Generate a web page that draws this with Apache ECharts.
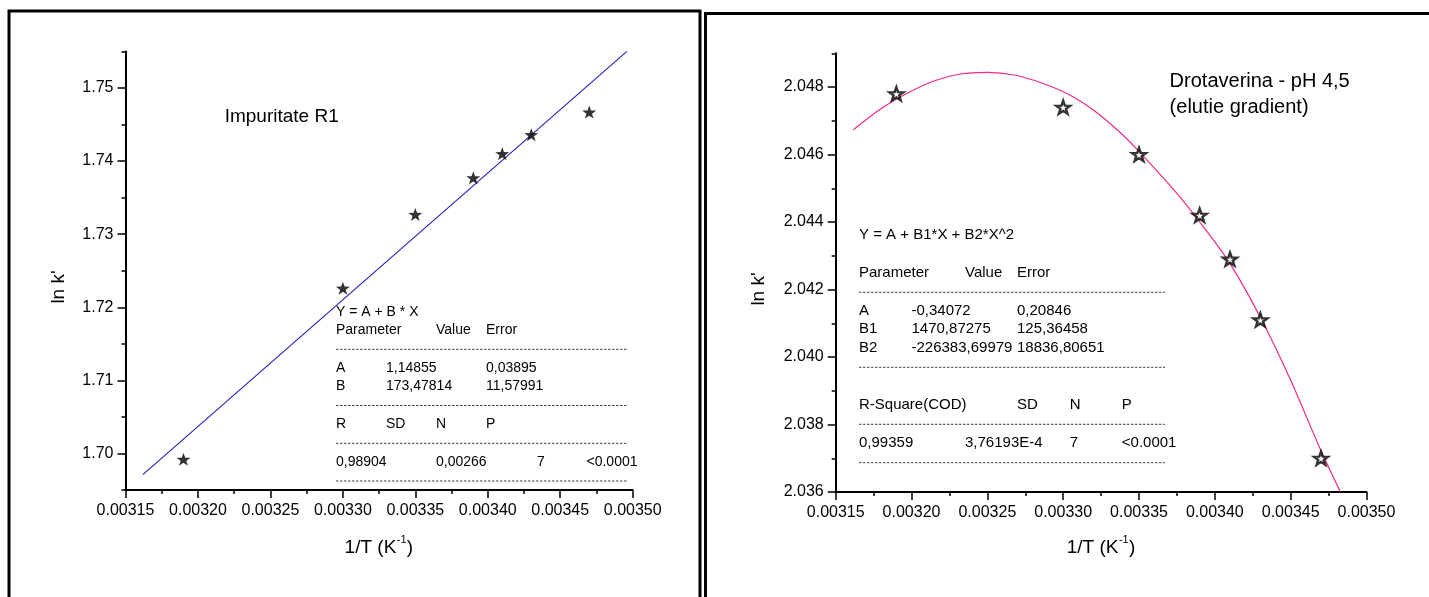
<!DOCTYPE html>
<html><head><meta charset="utf-8">
<script src="https://cdn.jsdelivr.net/npm/echarts@6/dist/echarts.min.js"></script>
<style>html,body{margin:0;padding:0;background:#fff}#c{width:1429px;height:597px}</style>
</head><body><div id="c"></div>
<script>
// ---- data ----
const leftX = [0.00319, 0.00330, 0.00335, 0.00339, 0.00341, 0.00343, 0.00347];
const leftY = [1.6992, 1.7226, 1.7327, 1.7377, 1.7410, 1.7436, 1.7467];
const leftFitX = [0.003162, 0.003496];
const leftFitY = [1.6971, 1.7550];

const rightX = [0.00319, 0.00330, 0.00335, 0.00339, 0.00341, 0.00343, 0.00347];
const rightY = [2.0478, 2.0474, 2.0460, 2.0442, 2.0429, 2.0411, 2.0370];
const rightCurveX = [0.0031616, 0.0031798, 0.0031987, 0.0032152, 0.0032323, 0.0032500, 0.0032677, 0.0032859, 0.0033040, 0.0033212, 0.0033376, 0.0033490, 0.0033730, 0.0033907, 0.0034096, 0.0034298, 0.0034500, 0.0034689, 0.0034828];
const rightCurveY = [2.046734, 2.047357, 2.047852, 2.048188, 2.048386, 2.048435, 2.048356, 2.048119, 2.047772, 2.047278, 2.046655, 2.046140, 2.044953, 2.043964, 2.042796, 2.041194, 2.039314, 2.037335, 2.036000];

// ---- tick labels ----
const xTickLabels = [0.00315, 0.00320, 0.00325, 0.00330, 0.00335, 0.00340, 0.00345, 0.00350];
const xMinorTicks = [0.003175, 0.003225, 0.003275, 0.003325, 0.003375, 0.003425, 0.003475];
const leftYLabels = [1.70, 1.71, 1.72, 1.73, 1.74, 1.75];
const leftYMinor = [1.695, 1.705, 1.715, 1.725, 1.735, 1.745, 1.755];
const rightYLabels = [2.036, 2.038, 2.040, 2.042, 2.044, 2.046, 2.048];
const rightYMinor = [2.037, 2.039, 2.041, 2.043, 2.045, 2.047, 2.049];

// ---- texts ----
const leftTitle = 'Impuritate R1';
const rightTitle1 = 'Drotaverina - pH 4,5';
const rightTitle2 = '(elutie gradient)';
const yName = "ln k'";
const xNameMain = '1/T (K';
const xNameSup = '-1';
const xNameEnd = ')';

const FONT = '"Liberation Sans", Arial, sans-serif';
const zip = (a, b) => a.map((v, i) => [v, b[i]]);
const STAR = 'path://M0,-10 L2.35,-3.24 L9.51,-3.09 L3.8,1.24 L5.88,8.09 L0,4 L-5.88,8.09 L-3.8,1.24 L-9.51,-3.09 L-2.35,-3.24 Z';

function mainX(grid, min, max, labels, dec) {
  return {
    type: 'value', gridIndex: grid, position: 'bottom', min: min, max: max,
    axisLine: {show: true, onZero: false, lineStyle: {color: '#000', width: 2}},
    axisTick: {show: true, inside: false, length: 8, lineStyle: {color: '#000', width: 1.5}, customValues: labels},
    axisLabel: {show: true, color: '#000', fontSize: 16, fontFamily: FONT, margin: 13, customValues: labels,
      formatter: v => v.toFixed(dec)},
    splitLine: {show: false}
  };
}
function minorX(grid, min, max, vals) {
  return {
    type: 'value', gridIndex: grid, position: 'bottom', min: min, max: max,
    axisLine: {show: false, onZero: false},
    axisTick: {show: true, inside: false, length: 4, lineStyle: {color: '#000', width: 1.5}, customValues: vals},
    axisLabel: {show: false},
    splitLine: {show: false}
  };
}
function mainY(grid, min, max, labels, dec) {
  return {
    type: 'value', gridIndex: grid, position: 'left', min: min, max: max,
    axisLine: {show: true, onZero: false, lineStyle: {color: '#000', width: 2}},
    axisTick: {show: true, inside: false, length: 8, lineStyle: {color: '#000', width: 1.5}, customValues: labels},
    axisLabel: {show: true, color: '#000', fontSize: 16, fontFamily: FONT, margin: 12, customValues: labels,
      formatter: v => v.toFixed(dec)},
    splitLine: {show: false}
  };
}
function minorY(grid, min, max, vals) {
  return {
    type: 'value', gridIndex: grid, position: 'left', min: min, max: max,
    axisLine: {show: false, onZero: false},
    axisTick: {show: true, inside: false, length: 4, lineStyle: {color: '#000', width: 1.5}, customValues: vals},
    axisLabel: {show: false},
    splitLine: {show: false}
  };
}

function txt(x, y, text, size, align) {
  return {type: 'text', x: x, y: y, silent: true,
    style: {text: text, fontSize: size || 14, fontFamily: FONT, fill: '#000',
      textAlign: align || 'left', textVerticalAlign: 'middle'}};
}
function dash(x1, x2, y) {
  return {type: 'line', silent: true, shape: {x1: x1, y1: y, x2: x2, y2: y},
    style: {stroke: '#444', lineWidth: 1, lineDash: [2.5, 1.5]}};
}
function xTitle(cx, y) {
  const main = 19, sup = 11;
  const w1 = 51.7, w2 = 10, w3 = 6.3;
  const x0 = cx - (w1 + w2 + w3) / 2;
  return [
    txt(x0, y, xNameMain, main),
    txt(x0 + w1 + 0.5, y - 8, xNameSup, sup),
    txt(x0 + w1 + w2 + 0.5, y, xNameEnd, main)
  ];
}
function yTitle(cx, cy) {
  return {type: 'text', x: cx, y: cy, rotation: Math.PI / 2, silent: true,
    style: {text: yName, fontSize: 19, fontFamily: FONT, fill: '#000', textAlign: 'center', textVerticalAlign: 'middle'}};
}

// left stats box
const L0 = 336, L1 = 386, L2 = 436, L3 = 486, L4 = 537, L5 = 586.5, LE = 627;
const leftStats = [
  txt(L0, 312, 'Y = A + B * X'),
  txt(L0, 330, 'Parameter'), txt(L2, 330, 'Value'), txt(L3, 330, 'Error'),
  dash(L0, LE, 349.3),
  txt(L0, 368, 'A'), txt(L1, 368, '1,14855'), txt(L3, 368, '0,03895'),
  txt(L0, 386.5, 'B'), txt(L1, 386.5, '173,47814'), txt(L3, 386.5, '11,57991'),
  dash(L0, LE, 405.5),
  txt(L0, 424, 'R'), txt(L1, 424, 'SD'), txt(L2, 424, 'N'), txt(L3, 424, 'P'),
  dash(L0, LE, 443.3),
  txt(L0, 461.7, '0,98904'), txt(L2, 461.7, '0,00266'), txt(L4, 461.7, '7'), txt(L5, 461.7, '<0.0001'),
  dash(L0, LE, 481)
];
// right stats box
const R0 = 859, R1 = 911.5, R2 = 965, R3 = 1017, R4 = 1069.7, R5 = 1121.8, RE = 1165;
const rightStats = [
  txt(R0, 235, 'Y = A + B1*X + B2*X^2', 15),
  txt(R0, 272.7, 'Parameter', 15), txt(R2, 272.7, 'Value', 15), txt(R3, 272.7, 'Error', 15),
  dash(R0, RE, 292.3),
  txt(R0, 311, 'A', 15), txt(R1, 311, '-0,34072', 15), txt(R3, 311, '0,20846', 15),
  txt(R0, 329, 'B1', 15), txt(R1, 329, '1470,87275', 15), txt(R3, 329, '125,36458', 15),
  txt(R0, 347.7, 'B2', 15), txt(R1, 347.7, '-226383,69979', 15), txt(R3, 347.7, '18836,80651', 15),
  dash(R0, RE, 367.3),
  txt(R0, 405, 'R-Square(COD)', 15), txt(R3, 405, 'SD', 15), txt(R4, 405, 'N', 15), txt(R5, 405, 'P', 15),
  dash(R0, RE, 424.3),
  txt(R0, 443.3, '0,99359', 15), txt(R2, 443.3, '3,76193E-4', 15), txt(R4, 443.3, '7', 15), txt(R5, 443.3, '<0.0001', 15),
  dash(R0, RE, 462.7)
];

const borders = [
  {type: 'rect', silent: true, shape: {x: 9, y: 11, width: 691, height: 640}, style: {fill: 'none', stroke: '#000', lineWidth: 3}},
  {type: 'rect', silent: true, shape: {x: 705.5, y: 13.5, width: 800, height: 640}, style: {fill: 'none', stroke: '#000', lineWidth: 3}}
];

const chart = echarts.init(document.getElementById('c'), null, {renderer: 'canvas'});
chart.setOption({
  animation: false,
  backgroundColor: '#fff',
  grid: [
    {left: 125.5, top: 51.4, width: 507.2, height: 438.6},
    {left: 835.7, top: 53.3, width: 530.8, height: 438.7}
  ],
  xAxis: [
    mainX(0, 0.00315, 0.00350, xTickLabels, 5),
    minorX(0, 0.00315, 0.00350, xMinorTicks),
    mainX(1, 0.00315, 0.00350, xTickLabels, 5),
    minorX(1, 0.00315, 0.00350, xMinorTicks)
  ],
  yAxis: [
    mainY(0, 1.695, 1.755, leftYLabels, 2),
    minorY(0, 1.695, 1.755, leftYMinor),
    mainY(1, 2.036, 2.049, rightYLabels, 3),
    minorY(1, 2.036, 2.049, rightYMinor)
  ],
  series: [
    {type: 'line', xAxisIndex: 0, yAxisIndex: 0, data: zip(leftFitX, leftFitY), showSymbol: false, symbol: 'none',
      lineStyle: {color: '#2626b8', width: 1.2}, silent: true, z: 2},
    {type: 'scatter', xAxisIndex: 0, yAxisIndex: 0, data: zip(leftX, leftY), symbol: STAR, symbolSize: [14, 13],
      itemStyle: {color: '#000'}, silent: true, z: 3},
    {type: 'line', xAxisIndex: 2, yAxisIndex: 2, data: zip(rightCurveX, rightCurveY), showSymbol: false, symbol: 'none',
      smooth: 0.3, lineStyle: {color: '#f0288a', width: 1.2}, silent: true, z: 2},
    {type: 'scatter', xAxisIndex: 2, yAxisIndex: 2, data: zip(rightX, rightY), symbol: STAR, symbolSize: [14, 13],
      itemStyle: {color: '#fff', borderColor: '#000', borderWidth: 2.4}, silent: true, z: 3}
  ],
  graphic: [].concat(
    borders,
    [txt(224.7, 116.7, leftTitle, 19), txt(1169.6, 81.7, rightTitle1, 20), txt(1169.6, 107.3, rightTitle2, 20)],
    leftStats, rightStats,
    [yTitle(59, 287), yTitle(759, 289)],
    xTitle(378.6, 548), xTitle(1100.7, 548)
  )
});
</script>
</body></html>
